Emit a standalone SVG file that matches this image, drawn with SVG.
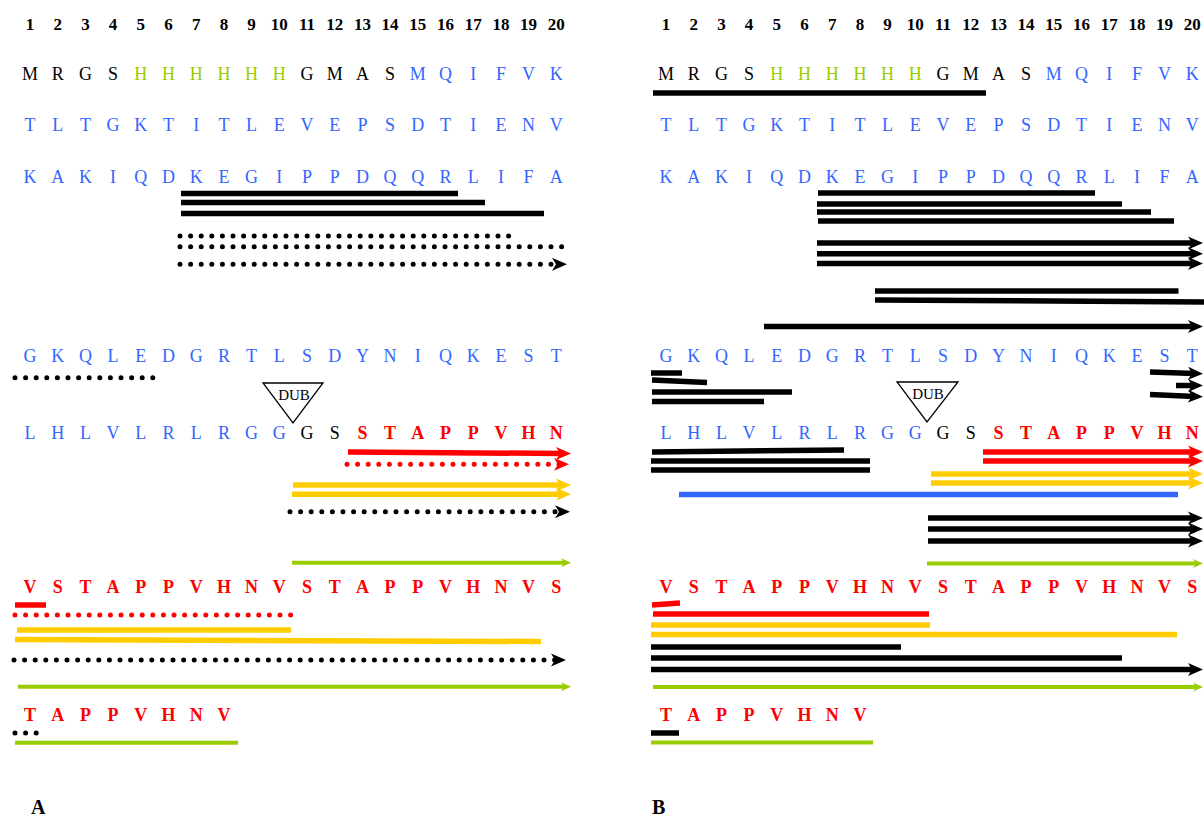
<svg xmlns="http://www.w3.org/2000/svg" width="1204" height="816" viewBox="0 0 1204 816">
<style>
text{font-family:"Liberation Serif","Times New Roman",serif}
.num{font-size:17px;font-weight:bold;fill:#000}
.seq{font-size:18px;text-anchor:middle}
.sn{text-anchor:middle}
.k{fill:#000}.b{fill:#3366ff}.g{fill:#99cc00}.r{fill:#ff0000;font-weight:bold}
.lab{font-size:20px;font-weight:bold}
.dub{font-size:15px;text-anchor:middle}
.tri{fill:#fff;stroke:#000;stroke-width:1.3}
line{fill:none}
.lk{stroke:#000;stroke-width:5.5}
.lr{stroke:#ff0000;stroke-width:5.5}
.ly{stroke:#ffcc00;stroke-width:5.5}
.lg{stroke:#99cc00;stroke-width:4}
.lb{stroke:#3366ff;stroke-width:5.5}
.dot{stroke-width:5;stroke-dasharray:0 10.6;stroke-linecap:round}
.ak{marker-end:url(#mk)}.ar{marker-end:url(#mr)}.ay{marker-end:url(#my)}.ag{marker-end:url(#mg)}
</style>
<defs>
<marker id="mk" markerUnits="userSpaceOnUse" viewBox="0 -7 16 14" markerWidth="16" markerHeight="14" refX="7" refY="0" orient="auto"><path d="M0,-6.5 L15,0 L0,6.5 L4,0 Z" fill="#000"/></marker>
<marker id="mr" markerUnits="userSpaceOnUse" viewBox="0 -7 16 14" markerWidth="16" markerHeight="14" refX="7" refY="0" orient="auto"><path d="M0,-6.5 L15,0 L0,6.5 L4,0 Z" fill="#ff0000"/></marker>
<marker id="my" markerUnits="userSpaceOnUse" viewBox="0 -7 16 14" markerWidth="16" markerHeight="14" refX="7" refY="0" orient="auto"><path d="M0,-6.5 L15,0 L0,6.5 L4,0 Z" fill="#ffcc00"/></marker>
<marker id="mg" markerUnits="userSpaceOnUse" viewBox="0 -5 11 10" markerWidth="11" markerHeight="10" refX="4" refY="0" orient="auto"><path d="M0,-4.5 L10,0 L0,4.5 L3,0 Z" fill="#99cc00"/></marker>
</defs>

<g id="panelA">
<g id="A-numbers"><text class="num sn" y="30"><tspan x="30">1</tspan><tspan x="57.7">2</tspan><tspan x="85.4">3</tspan><tspan x="113.1">4</tspan><tspan x="140.8">5</tspan><tspan x="168.5">6</tspan><tspan x="196.2">7</tspan><tspan x="223.9">8</tspan><tspan x="251.6">9</tspan><tspan x="279.3">10</tspan><tspan x="307">11</tspan><tspan x="334.7">12</tspan><tspan x="362.4">13</tspan><tspan x="390.1">14</tspan><tspan x="417.8">15</tspan><tspan x="445.5">16</tspan><tspan x="473.2">17</tspan><tspan x="500.9">18</tspan><tspan x="528.6">19</tspan><tspan x="556.3">20</tspan></text></g>
<g id="A-row1"><text class="seq" y="80"><tspan class="k" x="30 57.7 85.4 113.1">MRGS</tspan><tspan class="g" x="140.8 168.5 196.2 223.9 251.6 279.3">HHHHHH</tspan><tspan class="k" x="307 334.7 362.4 390.1">GMAS</tspan><tspan class="b" x="417.8 445.5 473.2 500.9 528.6 556.3">MQIFVK</tspan></text></g>
<g id="A-row2"><text class="seq b" y="131" x="30 57.7 85.4 113.1 140.8 168.5 196.2 223.9 251.6 279.3 307 334.7 362.4 390.1 417.8 445.5 473.2 500.9 528.6 556.3">TLTGKTITLEVEPSDTIENV</text></g>
<g id="A-row3"><text class="seq b" y="183" x="30 57.7 85.4 113.1 140.8 168.5 196.2 223.9 251.6 279.3 307 334.7 362.4 390.1 417.8 445.5 473.2 500.9 528.6 556.3">KAKIQDKEGIPPDQQRLIFA</text></g>
<g id="A-row4"><text class="seq b" y="362" x="30 57.7 85.4 113.1 140.8 168.5 196.2 223.9 251.6 279.3 307 334.7 362.4 390.1 417.8 445.5 473.2 500.9 528.6 556.3">GKQLEDGRTLSDYNIQKEST</text></g>
<g id="A-row5"><text class="seq" y="439"><tspan class="b" x="30 57.7 85.4 113.1 140.8 168.5 196.2 223.9 251.6 279.3">LHLVLRLRGG</tspan><tspan class="k" x="307 334.7">GS</tspan><tspan class="r" x="362.4 390.1 417.8 445.5 473.2 500.9 528.6 556.3">STAPPVHN</tspan></text></g>
<g id="A-row6"><text class="seq r" y="593" x="30 57.7 85.4 113.1 140.8 168.5 196.2 223.9 251.6 279.3 307 334.7 362.4 390.1 417.8 445.5 473.2 500.9 528.6 556.3">VSTAPPVHNVSTAPPVHNVS</text></g>
<g id="A-row7"><text class="seq r" y="721" x="30 57.7 85.4 113.1 140.8 168.5 196.2 223.9">TAPPVHNV</text></g>
<g id="A-dub"><polygon class="tri" points="263,383 323,383 293,423"/><text class="dub" x="294" y="400">DUB</text></g>
<g id="A-label"><text class="lab" x="31" y="814">A</text></g>
</g>

<g id="panelB">
<g id="B-numbers"><text class="num sn" y="30"><tspan x="666">1</tspan><tspan x="693.7">2</tspan><tspan x="721.4">3</tspan><tspan x="749.1">4</tspan><tspan x="776.8">5</tspan><tspan x="804.5">6</tspan><tspan x="832.2">7</tspan><tspan x="859.9">8</tspan><tspan x="887.6">9</tspan><tspan x="915.3">10</tspan><tspan x="943">11</tspan><tspan x="970.7">12</tspan><tspan x="998.4">13</tspan><tspan x="1026.1">14</tspan><tspan x="1053.8">15</tspan><tspan x="1081.5">16</tspan><tspan x="1109.2">17</tspan><tspan x="1136.9">18</tspan><tspan x="1164.6">19</tspan><tspan x="1192.3">20</tspan></text></g>
<g id="B-row1"><text class="seq" y="80"><tspan class="k" x="666 693.7 721.4 749.1">MRGS</tspan><tspan class="g" x="776.8 804.5 832.2 859.9 887.6 915.3">HHHHHH</tspan><tspan class="k" x="943 970.7 998.4 1026.1">GMAS</tspan><tspan class="b" x="1053.8 1081.5 1109.2 1136.9 1164.6 1192.3">MQIFVK</tspan></text></g>
<g id="B-row2"><text class="seq b" y="131" x="666 693.7 721.4 749.1 776.8 804.5 832.2 859.9 887.6 915.3 943 970.7 998.4 1026.1 1053.8 1081.5 1109.2 1136.9 1164.6 1192.3">TLTGKTITLEVEPSDTIENV</text></g>
<g id="B-row3"><text class="seq b" y="183" x="666 693.7 721.4 749.1 776.8 804.5 832.2 859.9 887.6 915.3 943 970.7 998.4 1026.1 1053.8 1081.5 1109.2 1136.9 1164.6 1192.3">KAKIQDKEGIPPDQQRLIFA</text></g>
<g id="B-row4"><text class="seq b" y="362" x="666 693.7 721.4 749.1 776.8 804.5 832.2 859.9 887.6 915.3 943 970.7 998.4 1026.1 1053.8 1081.5 1109.2 1136.9 1164.6 1192.3">GKQLEDGRTLSDYNIQKEST</text></g>
<g id="B-row5"><text class="seq" y="439"><tspan class="b" x="666 693.7 721.4 749.1 776.8 804.5 832.2 859.9 887.6 915.3">LHLVLRLRGG</tspan><tspan class="k" x="943 970.7">GS</tspan><tspan class="r" x="998.4 1026.1 1053.8 1081.5 1109.2 1136.9 1164.6 1192.3">STAPPVHN</tspan></text></g>
<g id="B-row6"><text class="seq r" y="593" x="666 693.7 721.4 749.1 776.8 804.5 832.2 859.9 887.6 915.3 943 970.7 998.4 1026.1 1053.8 1081.5 1109.2 1136.9 1164.6 1192.3">VSTAPPVHNVSTAPPVHNVS</text></g>
<g id="B-row7"><text class="seq r" y="721" x="666 693.7 721.4 749.1 776.8 804.5 832.2 859.9">TAPPVHNV</text></g>
<g id="B-dub"><polygon class="tri" points="897,382 958,382 927,422"/><text class="dub" x="928" y="399">DUB</text></g>
<g id="B-label"><text class="lab" x="652" y="814">B</text></g>
</g>

<g id="connectors">
<line class="lk" x1="181" y1="193.5" x2="458" y2="193.5"/>
<line class="lk" x1="181" y1="202.5" x2="485" y2="202.5" stroke-width="5"/>
<line class="lk" x1="181" y1="213.5" x2="544" y2="213.5"/>
<line class="lk dot" x1="180" y1="236" x2="510" y2="236"/>
<line class="lk dot" x1="180" y1="246.7" x2="562" y2="246.7"/>
<line class="lk dot ak" x1="180" y1="264.3" x2="559" y2="264.3"/>
<line class="lk dot" x1="15" y1="377.7" x2="153" y2="377.7"/>
<line class="lr ar" x1="348" y1="452" x2="563" y2="453.5"/>
<line class="lr dot ar" x1="347" y1="464.3" x2="561" y2="464.3"/>
<line class="ly ay" x1="293" y1="485" x2="563" y2="485"/>
<line class="ly ay" x1="292" y1="494.3" x2="563" y2="494.3"/>
<line class="lk dot ak" x1="290" y1="511.7" x2="562" y2="511.7"/>
<line class="lg ag" x1="292" y1="562.7" x2="565" y2="562.7"/>
<line class="lr" x1="15" y1="605" x2="46" y2="605"/>
<line class="lr dot" x1="15" y1="615" x2="291" y2="615"/>
<line class="ly" x1="17" y1="630" x2="291" y2="630"/>
<line class="ly" x1="15" y1="639.5" x2="541" y2="641.5"/>
<line class="lk dot ak" x1="14" y1="660" x2="558" y2="660"/>
<line class="lg ag" x1="18" y1="686.7" x2="565" y2="686.7"/>
<line class="lk dot" x1="15" y1="733" x2="36.5" y2="733"/>
<line class="lg" x1="15" y1="742.7" x2="238" y2="742.7"/>

<line class="lk" x1="653" y1="93" x2="986" y2="93"/>
<line class="lk" x1="818" y1="193" x2="1095" y2="193"/>
<line class="lk" x1="817" y1="204" x2="1122" y2="204"/>
<line class="lk" x1="817" y1="212" x2="1151" y2="212"/>
<line class="lk" x1="818" y1="221" x2="1174" y2="221"/>
<line class="lk ak" x1="817" y1="243" x2="1195" y2="243"/>
<line class="lk ak" x1="817" y1="253.7" x2="1195" y2="253.7"/>
<line class="lk ak" x1="817" y1="263.5" x2="1195" y2="263.5"/>
<line class="lk" x1="875" y1="291" x2="1178.5" y2="291"/>
<line class="lk" x1="875" y1="300" x2="1204" y2="302"/>
<line class="lk ak" x1="764" y1="326.5" x2="1195" y2="326.5"/>
<line class="lk" x1="651" y1="373" x2="682" y2="373"/>
<line class="lk" x1="652" y1="380" x2="707" y2="382.5"/>
<line class="lk" x1="652" y1="392" x2="792" y2="392"/>
<line class="lk" x1="652" y1="401.5" x2="764" y2="401.5"/>
<line class="lk ak" x1="1150" y1="372" x2="1195" y2="373.5"/>
<line class="lk ak" x1="1176" y1="385.5" x2="1195" y2="385.5"/>
<line class="lk ak" x1="1150" y1="394.5" x2="1195" y2="396.5"/>
<line class="lk" x1="652" y1="452" x2="844" y2="450"/>
<line class="lk" x1="651" y1="461" x2="870" y2="461"/>
<line class="lk" x1="651" y1="470" x2="870" y2="470"/>
<line class="lr ar" x1="983" y1="452" x2="1195" y2="452"/>
<line class="lr ar" x1="983" y1="461" x2="1195" y2="461"/>
<line class="ly ay" x1="931" y1="474" x2="1195" y2="474"/>
<line class="ly ay" x1="931" y1="483" x2="1195" y2="483"/>
<line class="lb" x1="679" y1="494.5" x2="1178" y2="494.5"/>
<line class="lk ak" x1="928" y1="518" x2="1195" y2="518"/>
<line class="lk ak" x1="928" y1="529" x2="1195" y2="529"/>
<line class="lk ak" x1="928" y1="541" x2="1195" y2="541"/>
<line class="lg ag" x1="927" y1="563.5" x2="1197" y2="563.5"/>
<line class="lr" x1="652" y1="605" x2="680" y2="603"/>
<line class="lr" x1="653" y1="614" x2="929" y2="614"/>
<line class="ly" x1="651" y1="625" x2="930" y2="625"/>
<line class="ly" x1="651" y1="634.5" x2="1177" y2="634.5"/>
<line class="lk" x1="651" y1="647" x2="901" y2="647"/>
<line class="lk" x1="651" y1="658" x2="1122" y2="658"/>
<line class="lk ak" x1="651" y1="669.5" x2="1195" y2="669.5"/>
<line class="lg ag" x1="653" y1="687" x2="1197" y2="687"/>
<line class="lk" x1="651" y1="733" x2="679" y2="733"/>
<line class="lg" x1="651" y1="742.5" x2="873" y2="742.5"/>
</g>
</svg>
